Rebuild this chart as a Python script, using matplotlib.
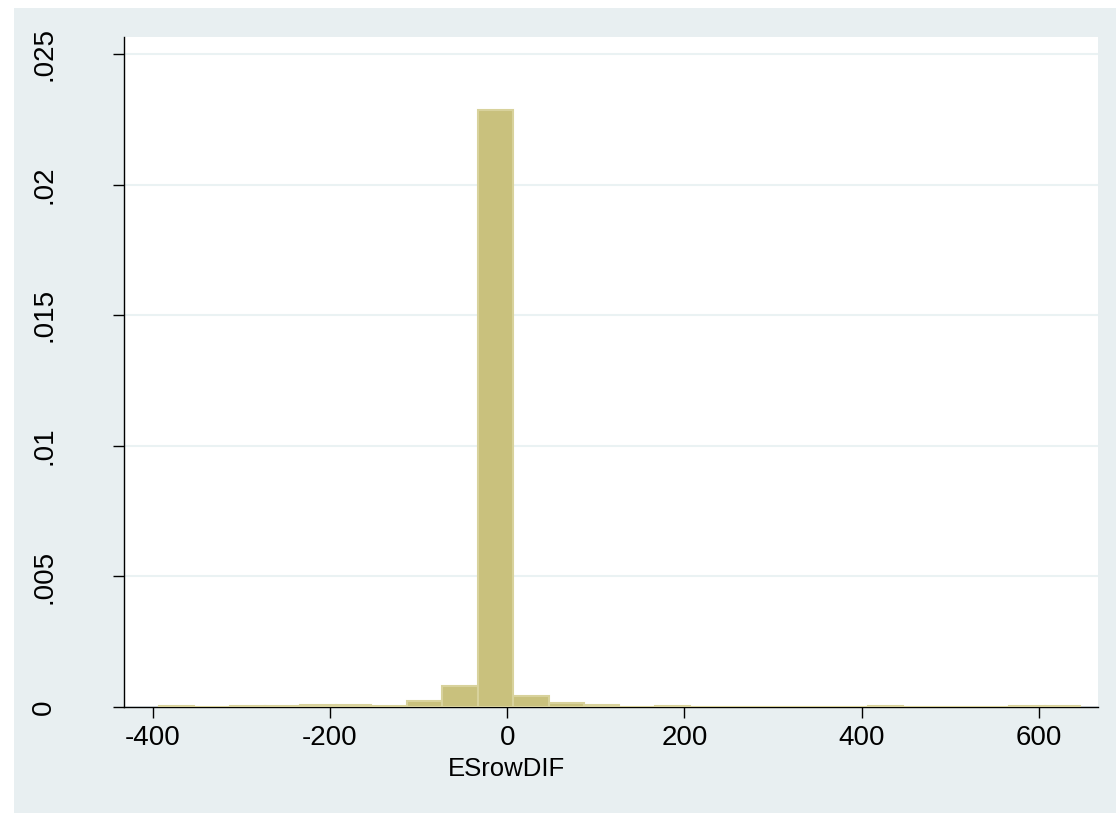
import numpy as np
import matplotlib.pyplot as plt
from matplotlib.patches import Rectangle

plt.rcParams['font.family'] = ['Liberation Sans', 'DejaVu Sans']

# histogram of ESrowDIF, density per bin (bin width 40)
bin_left = [-393.3, -353.3, -313.3, -273.3, -233.3, -193.3, -153.3, -113.3,
            -73.3, -33.3, 6.7, 46.7, 86.7, 126.7, 166.7, 206.7, 246.7, 286.7,
            326.7, 366.7, 406.7, 446.7, 486.7, 526.7, 566.7, 606.7]
bin_width = 40
density = [0.00003, 0.0, 0.00004, 0.00004, 0.00007, 0.00007, 0.00004, 0.00024,
           0.00082, 0.02287, 0.00044, 0.00017, 0.00006, 0.0, 0.00005, 0.0,
           0.0, 0.0, 0.0, 0.0, 0.00003, 0.0, 0.0, 0.0, 0.00003, 0.00003]

xticks = [-400, -200, 0, 200, 400, 600]
xtick_labels = ['-400', '-200', '0', '200', '400', '600']
yticks = [0, 0.005, 0.01, 0.015, 0.02, 0.025]
ytick_labels = ['0', '.005', '.01', '.015', '.02', '.025']

W, H = 1116, 813
fig = plt.figure(figsize=(W / 100, H / 100), dpi=100, facecolor='white')
# graph region background (Stata-like)
fig.add_artist(Rectangle((14 / W, 0), 1 - 14 / W, 1 - 8 / H,
                         transform=fig.transFigure, facecolor='#e8eff1',
                         edgecolor='none', zorder=-5))

ax = fig.add_axes([124 / W, 1 - 707 / H, (1097.7 - 124) / W, (707 - 37) / H])
ax.set_facecolor('white')

ax.bar(bin_left, density, width=bin_width, align='edge',
       color='#c9c17d', edgecolor='#d8d29c', linewidth=1.5, zorder=3)

ax.set_xlim(-432.4, 666.3)
ax.set_ylim(0, 0.02566)

ax.set_yticks(yticks)
ax.set_yticklabels(ytick_labels, rotation=90, va='center')
ax.set_xticks(xticks)
ax.set_xticklabels(xtick_labels)
ax.yaxis.grid(True, color='#eaf2f3', linewidth=1.5, zorder=0)
ax.set_axisbelow(True)

for s in ['top', 'right']:
    ax.spines[s].set_visible(False)
for s in ['left', 'bottom']:
    ax.spines[s].set_color('black')
    ax.spines[s].set_linewidth(1.0)

ax.tick_params(axis='y', length=8, width=1, pad=40, labelsize=20)
ax.tick_params(axis='x', length=8, width=1, pad=5, labelsize=20)

ax.set_xlabel('ESrowDIF', fontsize=18.5, labelpad=2)
ax.xaxis.set_label_coords(0.393, -0.075)

fig.savefig('out.png', dpi=100, facecolor=fig.get_facecolor())
